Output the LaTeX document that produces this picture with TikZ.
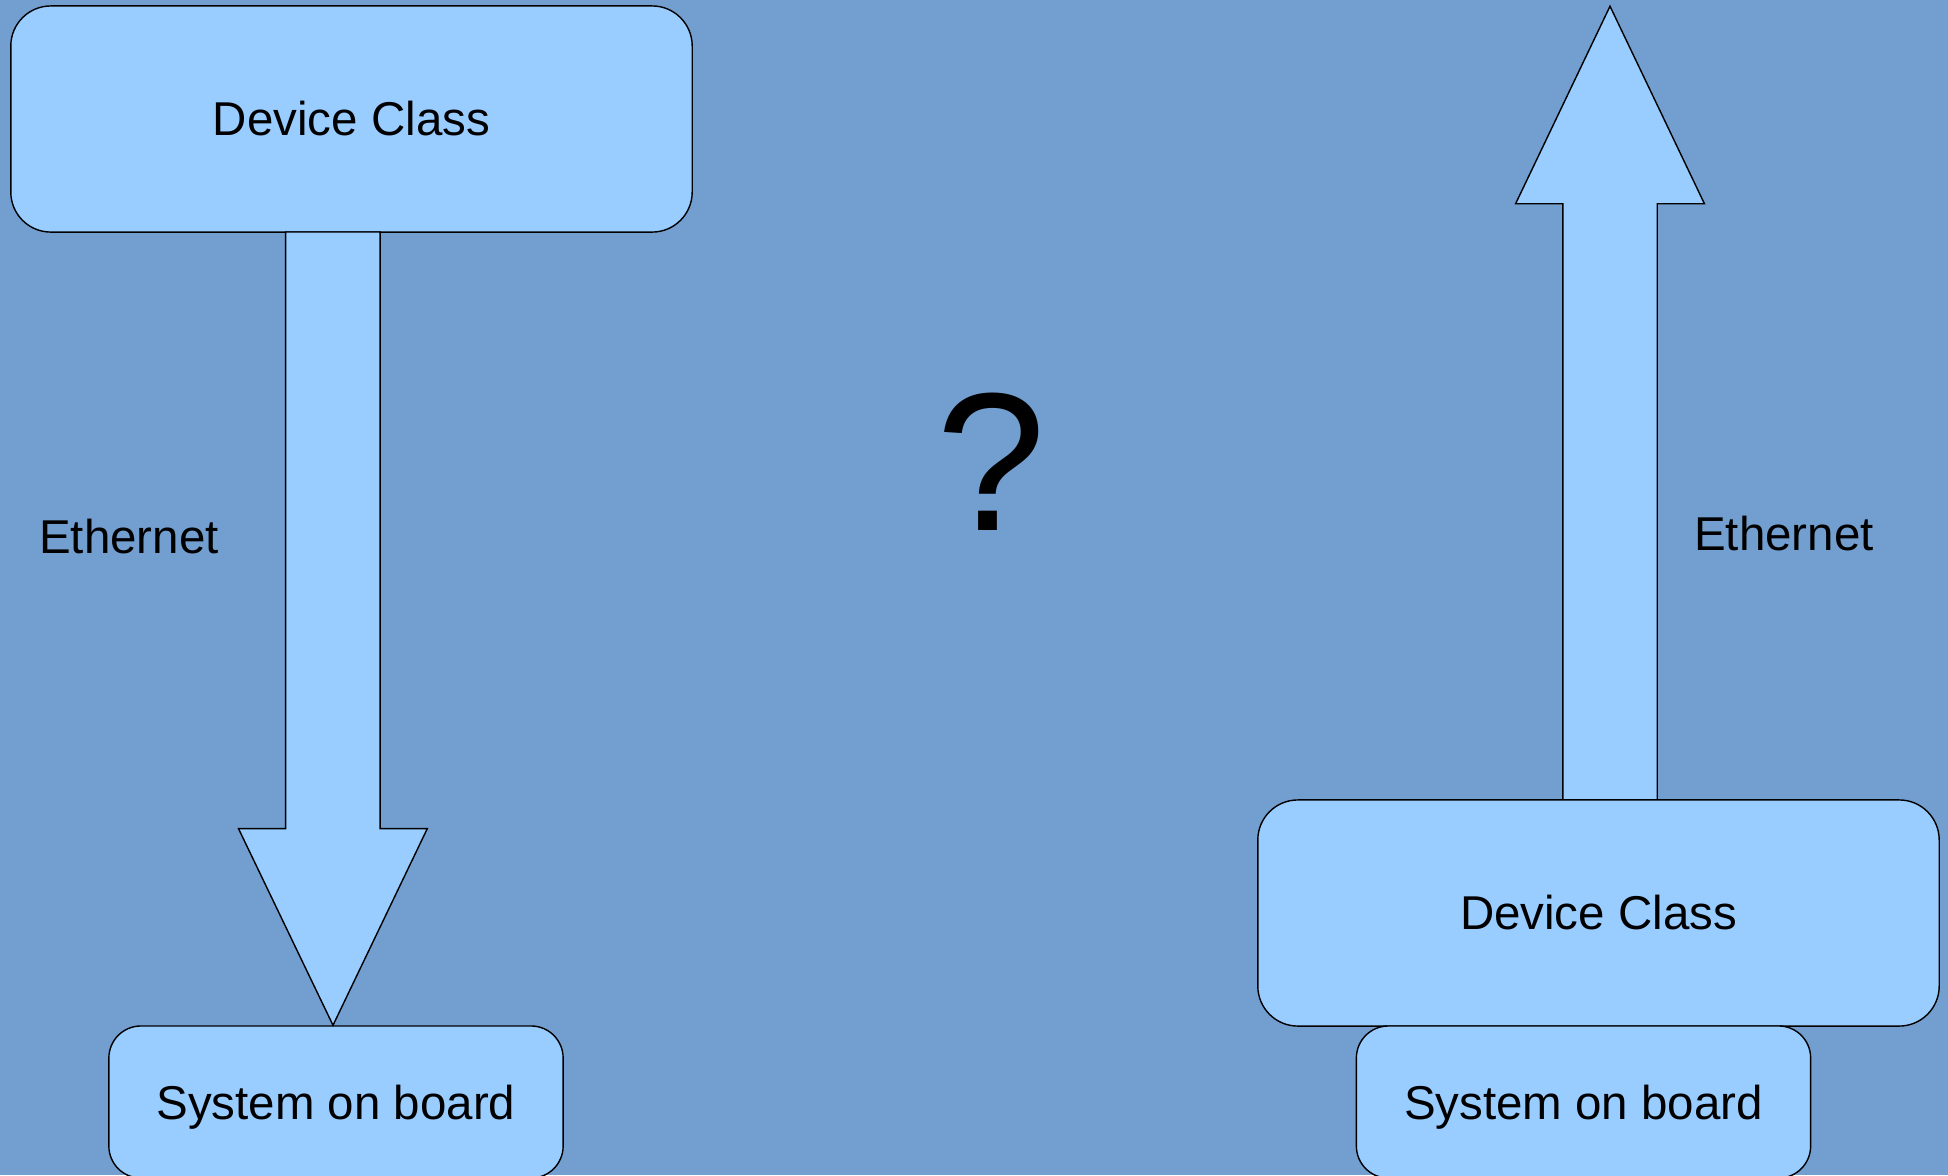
\documentclass[tikz,border=0pt]{standalone}
\usepackage{fontspec}
\setmainfont{Liberation Sans}
\usepackage{tikz}
\usetikzlibrary{positioning}
\definecolor{bgblue}{HTML}{729FCF}
\definecolor{boxblue}{HTML}{99CCFF}

\begin{document}
\begin{tikzpicture}
	[x=0.01cm,y=-0.01cm,
	box/.style={draw=black,fill=boxblue,line width=0.4pt,rounded corners=0.4cm,
		inner sep=0pt,font=\fontsize{13.5}{16}\selectfont},
	sob/.style={box,rounded corners=0.32cm,minimum width=4.54cm,minimum height=1.52cm,
		text depth=0pt,yshift=-0.03cm},
	dc/.style={box,minimum width=6.81cm,minimum height=2.26cm},
	blockarrow/.style={draw=black,fill=boxblue,line width=0.4pt,line join=miter},
	lbl/.style={font=\fontsize{13.5}{16}\selectfont}]
% fondo
\fill[bgblue] (0,0) rectangle (1948,1175);
\useasboundingbox (0,0) rectangle (1948,1175);
% lado izquierdo
\node[dc] (dcleft) at (351.5,119) {Device Class};
\node[sob] (sobleft) at (336,1099) {System on board};
\draw[blockarrow]
(285.7,232) -- (380.1,232) -- (380.1,828.6) -- (427.3,828.6) -- (sobleft.north -| 333,0) -- (238.5,828.6) -- (285.7,828.6) -- cycle;
\node[lbl] (ethleft) at (129,537) {Ethernet};
% pregunta
\node[font=\fontsize{56}{66}\selectfont] (quest) at (991,462) {?};
% lado derecho
\draw[blockarrow]
(1562.8,800) -- (1562.8,203.7) -- (1515.6,203.7) -- (1610,6.2) -- (1704.4,203.7) -- (1657.2,203.7) -- (1657.2,800) -- cycle;
\node[dc] (dcright) at (1598.5,913) {Device Class};
\node[sob] (sobright) at (1583.5,1099) {System on board};
\node[lbl] (ethright) at (1784,534) {Ethernet};
\end{tikzpicture}
\end{document}
